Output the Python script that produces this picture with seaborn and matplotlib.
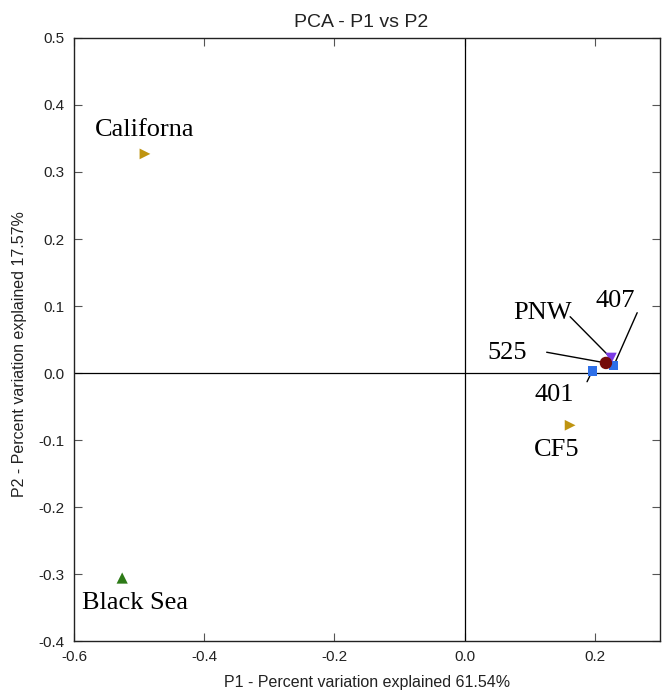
import pandas as pd
import matplotlib
matplotlib.use("Agg")
import matplotlib.pyplot as plt
import matplotlib.ticker as mticker
import seaborn as sns

# ==========================================
# DATA
# ==========================================

names = ["Californa", "Black Sea", "CF5", "401", "407", "PNW", "525"]
p1 = [-0.491, -0.526, 0.162, 0.196, 0.229, 0.225, 0.217]
p2 = [0.327, -0.306, -0.078, 0.003, 0.011, 0.022, 0.015]

colors = ["#BF9410", "#2D7A17", "#BF9410", "#2E6FE8", "#2E6FE8", "#7B3BE5", "#740A0A"]
markers = [">", "^", ">", "s", "s", "v", "o"]
sizes = [60, 65, 60, 45, 45, 65, 80]

# label text centres (data coords)
label_x = [-0.491, -0.506, 0.142, 0.137, 0.232, 0.120, 0.065]
label_y = [0.363, -0.343, -0.115, -0.033, 0.107, 0.090, 0.030]

# leader lines: start point near the label (None = no line)
line_x = [None, None, None, 0.188, 0.265, 0.162, 0.126]
line_y = [None, None, None, -0.013, 0.090, 0.084, 0.031]

df = pd.DataFrame({"name": names, "P1": p1, "P2": p2})

# ==========================================
# PLOT
# ==========================================

sns.set_style("ticks")
plt.rcParams["font.family"] = ["Liberation Sans", "DejaVu Sans"]

fig = plt.figure(figsize=(6.69, 6.97), dpi=100)
ax = fig.add_axes([0.1106, 0.0803, 0.8759, 0.8652])

ax.axhline(0, color="black", lw=0.9, zorder=1)
ax.axvline(0, color="black", lw=0.9, zorder=1)

for i in range(len(names)):
    sns.scatterplot(
        data=df.iloc[[i]],
        x="P1",
        y="P2",
        color=colors[i],
        marker=markers[i],
        s=sizes[i],
        edgecolor="none",
        legend=False,
        zorder=3 + i * 0.1,
        ax=ax
    )

for i in range(len(names)):
    if line_x[i] is not None:
        ax.annotate(
            "",
            xy=(p1[i], p2[i]),
            xytext=(line_x[i], line_y[i]),
            arrowprops=dict(arrowstyle="-", color="black", lw=1.0,
                            shrinkA=0, shrinkB=2),
            zorder=2
        )
    ax.text(label_x[i], label_y[i], names[i], ha="center", va="center",
            fontsize=19, family="Liberation Serif", color="black", zorder=4)

ax.set_xlim(-0.6, 0.3)
ax.set_ylim(-0.4, 0.5)
ax.set_xticks([-0.6, -0.4, -0.2, 0.0, 0.2])
ax.set_yticks([-0.4, -0.3, -0.2, -0.1, 0.0, 0.1, 0.2, 0.3, 0.4, 0.5])
ax.xaxis.set_major_formatter(mticker.FormatStrFormatter("%.1f"))
ax.yaxis.set_major_formatter(mticker.FormatStrFormatter("%.1f"))
ax.tick_params(direction="in", top=True, right=True, length=6, width=0.8,
               pad=6.5, labelsize=11, color="#555555", labelcolor="#222222")

for s in ax.spines.values():
    s.set_linewidth(1.0)
    s.set_color("#222222")

ax.set_xlabel("P1 - Percent variation explained 61.54%", fontsize=11.5,
              color="#222222", labelpad=8)
ax.set_ylabel("P2 - Percent variation explained 17.57%", fontsize=11.5,
              color="#222222")
ax.yaxis.set_label_coords(-0.080, 0.476)
ax.set_title("PCA - P1 vs P2", fontsize=14, pad=8, x=0.49, color="#222222")

plt.savefig("out.png", dpi=100)
